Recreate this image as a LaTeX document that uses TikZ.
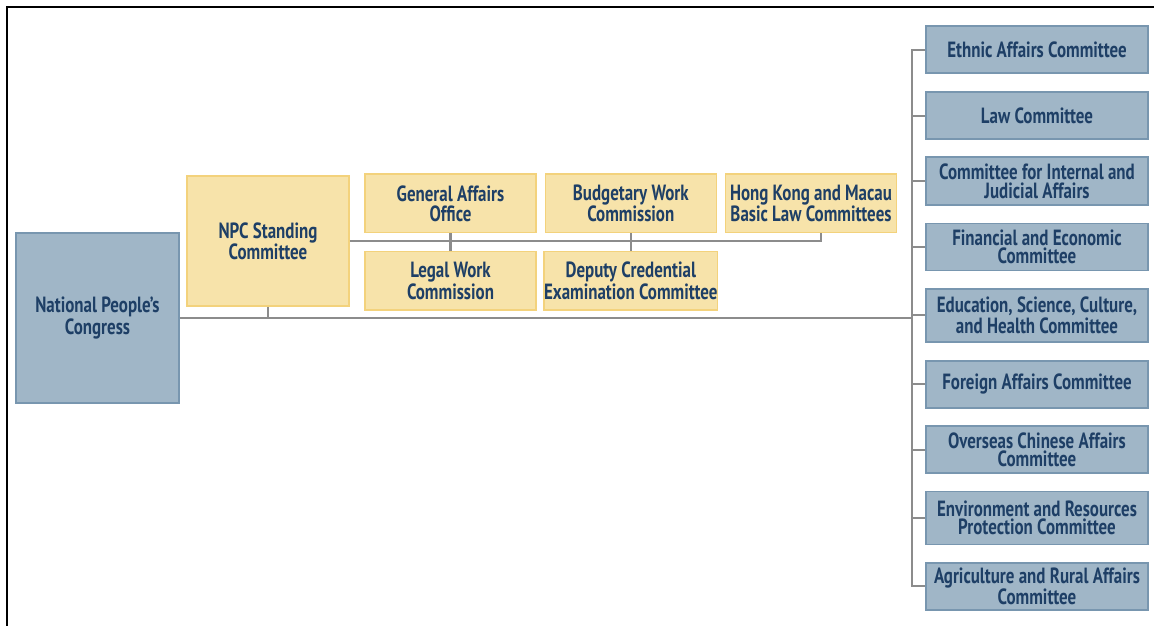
\documentclass[tikz,border=0pt]{standalone}
\usepackage{fontspec}
\setmainfont{PT Sans}[FakeStretch=0.77]
\definecolor{bluefill}{HTML}{A0B6C7}
\definecolor{blueline}{HTML}{7896AF}
\definecolor{yelfill}{HTML}{F7E3AA}
\definecolor{yelline}{HTML}{F3D27C}
\definecolor{txt}{HTML}{1E3F66}
\definecolor{linegray}{HTML}{8C8C8C}
\begin{document}
\begin{tikzpicture}[x=1pt,y=-1pt,
  box/.style={draw, line width=1.5pt, inner sep=0pt, align=center, text=txt,
    font=\bfseries\fontsize{22}{20}\selectfont},
  bluebox/.style={box, fill=bluefill, draw=blueline},
  rbox/.style={bluebox, minimum width=222pt, minimum height=47pt,
    font=\bfseries\fontsize{22}{18.5}\selectfont},
  yelbox/.style={box, fill=yelfill, draw=yelline},
  mbox/.style={yelbox, minimum width=171pt, minimum height=58.7pt},
  conn/.style={draw=linegray, line width=2.2pt},
  frame/.style={draw=black, line width=2.2pt}]
\useasboundingbox (0,0) rectangle (1154,626);
% frame
\draw[frame] (1154,7) -- (7,7) -- (7,626);
% left
\node[bluebox, minimum width=163pt, minimum height=170pt] (npc) at (97.5,318) {National People’s\\Congress};
\node[yelbox, minimum width=162pt, minimum height=130pt] (sc) at (268,241) {NPC Standing\\Committee};
% middle
\node[mbox] (ga) at (450.5,203.3) {General Affairs\\Office};
\node[mbox] (bw) at (630.8,203.3) {Budgetary Work\\Commission};
\node[mbox, minimum width=171.4pt] (hk) at (811,203.3) {Hong Kong and Macau\\Basic Law Committees};
\node[mbox] (lw) at (450.5,280.8) {Legal Work\\Commission};
\node[mbox] (dc) at (630.8,280.8) {Deputy Credential\\Examination Committee};
% right
\node[rbox] (r1) at (1037,49.7) {Ethnic Affairs Committee};
\node[rbox] (r2) at (1037,115.7) {Law Committee};
\node[rbox, minimum height=48pt] (r3) at (1037,181.2) {Committee for Internal and\\Judicial Affairs};
\node[rbox] (r4) at (1037,247) {Financial and Economic\\Committee};
\node[rbox, minimum height=53pt, font=\bfseries\fontsize{22}{20.5}\selectfont] (r5) at (1037,315.3) {Education, Science, Culture,\\and Health Committee};
\node[rbox] (r6) at (1037,384.3) {Foreign Affairs Committee};
\node[rbox] (r7) at (1037,449.7) {Overseas Chinese Affairs\\Committee};
\node[rbox, minimum height=52.6pt] (r8) at (1037,518) {Environment and Resources\\Protection Committee};
\node[rbox] (r9) at (1037,586.3) {Agriculture and Rural Affairs\\Committee};
% connectors
\coordinate (bus) at (912,0);
\coordinate (hkj) at ([xshift=10pt]hk.south);
\draw[conn] (npc.east) -- (npc.east -| bus);
\draw[conn] (sc.south) -- (sc.south |- npc.east);
\draw[conn] (sc.east) -- (sc.east -| hkj) -- (hkj);
\draw[conn] (ga.south) -- (lw.north);
\draw[conn] (bw.south) -- (dc.north);
\draw[conn] (r1.west) -- (r1.west -| bus) -- (r9.west -| bus) -- (r9.west);
\foreach \r in {r2,r3,r4,r5,r6,r7,r8}{
  \draw[conn] (\r.west) -- (\r.west -| bus);
}
\end{tikzpicture}
\end{document}
